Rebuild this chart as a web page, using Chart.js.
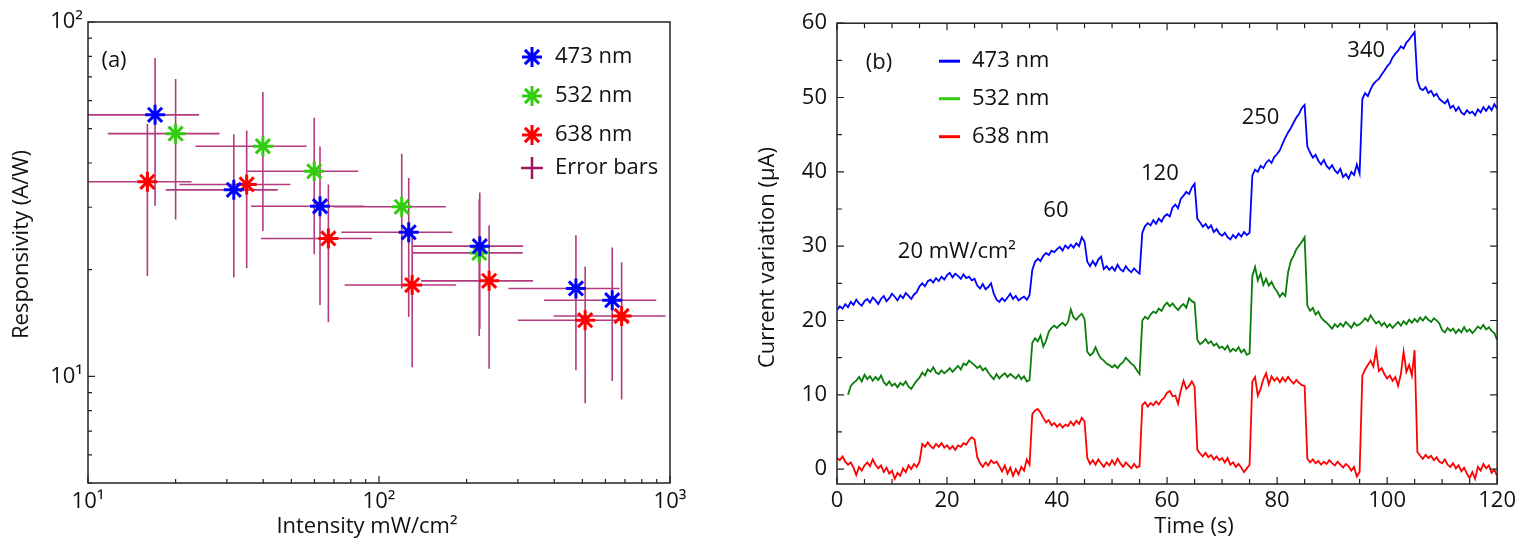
<!DOCTYPE html>
<html>
<head>
<meta charset="utf-8">
<script src="https://cdn.jsdelivr.net/npm/chart.js@4.4.1/dist/chart.umd.min.js"></script>
<style>
  html, body { margin: 0; padding: 0; background: #fff; }
  #wrapA { position: absolute; left: 0; top: 0; }
  #wrapB { position: absolute; left: 730px; top: 0; }
</style>
</head>
<body>
<div id="wrapA"><canvas id="respChart" width="730" height="542"></canvas></div>
<div id="wrapB"><canvas id="currentChart" width="790" height="542"></canvas></div>
<script>
// ---- panel (a): responsivity vs intensity, error = half width ----
var intensity473 = [17.0, 31.7, 62.7, 126.5, 222, 475, 633];
var resp473 = [54.7, 33.6, 30.2, 25.5, 23.3, 17.7, 16.4];
var errX473 = [7.1, 13.2, 26.4, 52.3, 91, 196.5, 264];
var errY473 = [24.4, 14.6, 14.3, 10.8, 9.7, 7.3, 6.7];

var intensity532 = [20.0, 39.9, 59.9, 119.7, 221];
var resp532 = [48.4, 44.6, 37.9, 30.1, 22.3];
var errX532 = [8.3, 16.5, 24.9, 50, 91];
var errY532 = [20.7, 18.9, 15.8, 12.4, 9.3];

var intensity638 = [16.0, 35.1, 67.0, 130, 239, 511, 682];
var resp638 = [35.4, 34.8, 24.5, 18.1, 18.6, 14.4, 14.8];
var errX638 = [6.7, 14.5, 27.7, 53.8, 99.5, 211, 284];
var errY638 = [16.2, 14.6, 10.3, 7.5, 8.1, 6.0, 6.2];

var xTicksA = [10, 100, 1000];
var yTicksA = [10, 100];

// ---- panel (b): current vs time, sampled every 0.5 s ----
var timeStep = 0.5;
var current473 = [
  21.4, 21.9, 21.6, 22.2, 21.8, 22.5, 22.1, 22.8, 22.3, 22.0, 22.6,
  22.9, 22.4, 23.1, 22.7, 22.2, 22.9, 23.3, 22.6, 23.0, 23.6,
  23.2, 22.7, 23.4, 23.0, 23.7, 23.3, 22.9, 23.5, 23.8, 24.6,
  25.0, 24.6, 25.3, 25.5, 25.1, 25.7, 25.3, 25.9, 25.5, 26.1,
  26.4, 25.8, 26.3, 26.0, 25.6, 26.2, 25.7, 25.9, 25.4, 25.6,
  24.7, 24.3, 24.9, 24.2, 24.5, 25.0, 23.6, 22.8, 22.5, 23.0,
  22.6, 23.1, 23.6, 22.9, 23.3, 22.7, 23.0, 23.2, 22.8, 23.4,
  26.8, 27.9, 28.3, 28.0, 28.7, 29.1, 28.8, 29.4, 29.2, 29.6,
  29.9, 29.4, 30.1, 29.7, 30.2, 29.8, 30.4, 30.0, 31.2, 30.6,
  27.9, 27.3, 28.0, 27.4, 28.2, 28.6, 26.9, 27.3, 26.8, 27.2,
  26.7, 27.5, 26.9, 26.6, 27.3, 26.8, 26.5, 27.0, 26.6, 26.3,
  31.8, 32.7, 33.1, 32.8, 33.5, 33.0, 33.7, 33.3, 34.0, 34.3,
  34.0, 35.2, 35.6, 35.1, 36.4, 36.8, 37.3, 37.0, 37.9, 38.4,
  33.7, 33.2, 32.6, 33.0, 32.4, 32.8, 31.9, 32.3, 31.7, 31.4,
  31.8, 31.2, 30.9, 31.5, 31.1, 31.7, 31.3, 31.9, 31.5, 31.8,
  39.5, 40.3, 40.0, 40.8, 40.5, 41.2, 41.6, 41.2, 42.0, 42.4,
  42.9, 43.8, 44.6, 45.3, 45.9, 46.6, 47.3, 47.8, 48.6, 49.0,
  43.4, 42.6, 41.9, 42.3, 41.5, 41.0, 41.6, 40.8, 40.4, 40.9,
  40.2, 39.8, 40.4, 39.3, 39.7, 39.1, 40.0, 39.6, 41.0, 39.8,
  49.8, 50.6, 50.2, 51.1, 51.8, 52.2, 52.5, 53.1, 53.6, 54.2,
  54.6, 55.4, 55.9, 56.3, 56.9, 56.6, 57.4, 57.8, 58.3, 58.8,
  52.3, 51.2, 51.0, 51.4, 50.6, 50.9, 50.2, 50.5, 49.8, 49.5,
  49.2, 49.7, 48.6, 48.9, 48.2, 48.7, 48.0, 47.7, 48.3, 47.9,
  48.1, 47.6, 48.4, 48.0, 48.7, 48.2, 48.8, 48.3, 49.1, 48.5
];
var current532 = [
  null, null, null, null, 10.0, 11.2, 11.6, 11.9, 12.4, 11.8, 12.7,
  12.1, 12.5, 11.9, 12.4, 12.0, 12.6, 11.7, 11.3, 11.8, 11.2,
  11.5, 11.0, 11.6, 11.3, 11.8, 11.1, 10.8, 11.4, 11.9, 12.3,
  13.0, 12.6, 13.4, 13.1, 13.7, 13.0, 12.8, 13.3, 12.9, 13.2,
  13.6, 13.1, 13.5, 13.9, 13.4, 14.2, 14.0, 14.6, 14.3, 14.0,
  13.6, 13.9, 13.3, 13.6, 13.0, 12.5, 12.1, 12.8, 12.2, 12.6,
  12.9, 12.4, 12.8, 12.5, 12.2, 12.7, 12.1, 12.5, 11.8, 12.0,
  17.0, 17.6, 17.2, 18.0, 16.5, 17.3, 18.5, 19.0, 19.3, 19.0,
  19.4, 19.7, 19.3, 19.8, 21.5, 20.4, 20.1, 20.6, 20.9, 20.2,
  15.8, 15.3, 15.6, 16.4, 15.5, 14.9, 14.6, 14.2, 14.0, 13.7,
  14.0, 13.6, 14.1, 14.4, 15.0, 14.6, 14.2, 13.9, 13.3, 12.8,
  20.0, 20.5, 20.2, 20.8, 21.2, 21.0, 21.6, 21.3, 22.0, 22.4,
  21.9, 22.3, 21.8, 21.4, 21.9, 22.2, 21.7, 23.0, 22.6, 22.4,
  17.4, 16.8, 17.1, 17.5, 16.9, 17.2, 16.6, 16.9, 16.3, 16.5,
  16.1, 16.6, 15.8, 16.2, 15.9, 16.4, 15.7, 16.1, 15.4, 15.6,
  26.0, 27.2, 25.4, 26.3, 24.8, 25.6, 24.7, 25.2, 24.4, 23.9,
  23.2, 23.7, 23.3, 26.5, 28.0, 28.7, 29.6, 30.1, 30.6, 31.2,
  22.0, 21.3, 21.7, 20.8, 21.2, 20.4, 20.0, 19.7, 19.3, 18.9,
  19.5, 19.1, 19.6, 19.2, 19.8, 19.4, 19.0, 19.7, 19.3, 19.5,
  19.8, 20.3, 19.9, 20.7, 20.1, 19.6, 19.9, 19.3, 19.7, 19.1,
  19.5, 19.0, 19.4, 19.8, 19.3, 19.9, 19.5, 20.1, 19.7, 20.2,
  19.8, 20.4, 20.0, 20.5, 20.1, 19.8, 20.3, 20.0, 19.6, 18.7,
  18.4, 19.0, 18.6, 18.9, 18.3, 18.8, 18.4, 19.1, 18.5, 18.8,
  18.3, 18.7, 19.2, 18.9, 19.4, 18.8, 19.1, 18.6, 18.3, 17.4
];
var current638 = [
  1.5, 1.2, 1.7, 1.0, 0.6, 0.9, 0.2, -0.8, 0.3, -0.2, 0.5,
  0.9, 0.4, 1.3, 0.6, 0.1, 0.5, -0.4, 0.2, -0.6, -0.2,
  -1.3, -0.5, -0.9, 0.1, -0.4, 0.5, 0.0, 0.7, 0.3, 1.0,
  3.4, 3.0, 3.6, 3.1, 2.8, 3.4, 3.0, 3.5, 2.9, 3.2,
  2.7, 3.1, 2.6, 3.2, 3.0, 3.5, 3.3, 3.9, 4.3, 4.0,
  1.6, 0.8, 0.3, 0.9, 0.5, 1.2, 0.8, 1.0, 0.4, -0.3,
  0.5, -0.6, 0.2, -0.9, 0.0, -0.7, 0.3, -0.2, 1.3, 0.6,
  7.4, 7.9, 8.1, 7.6, 6.9, 6.3, 6.6, 5.9, 6.2, 5.7,
  6.1, 5.6, 6.0, 5.8, 6.4, 5.9, 6.5, 6.1, 6.9, 6.4,
  1.5, 0.7, 1.2, 0.6, 1.3, 0.8, 0.3, 0.9, 0.5, 1.2,
  0.6, 1.4, 0.8, 0.3, 0.9, 0.5, 0.1, 0.7, 0.2, 0.4,
  8.6, 9.0, 8.4, 8.9, 8.6, 9.1, 8.7, 9.3, 9.6, 10.3,
  10.5, 9.8, 9.9, 8.8, 10.6, 11.9, 10.8, 11.2, 11.8, 11.1,
  2.6, 2.1, 1.7, 2.2, 1.6, 1.9, 1.3, 1.7, 1.2, 1.5,
  0.9, 1.5, 0.6, 0.9, 0.3, 0.7, 0.2, -0.4, 0.1, 0.6,
  11.8, 12.4, 9.9, 10.8, 12.1, 12.9, 11.4, 12.5, 11.9, 12.3,
  11.7, 12.3, 11.8, 12.4, 11.9, 11.5, 12.0, 11.6, 11.3, 11.2,
  1.4, 0.9, 1.3, 0.8, 1.1, 0.6, 1.0, 0.7, 1.2, 0.8,
  0.5, 1.0, 0.6, 0.2, 0.7, 0.4, -0.2, 0.3, -1.0, -0.4,
  12.6, 13.4, 14.0, 14.6, 13.8, 16.0, 13.2, 13.6, 12.8, 12.2,
  12.6, 11.9, 12.4, 11.2, 12.8, 15.8, 13.1, 14.0, 12.6, 16.0,
  2.3, 1.8, 1.4, 1.9, 1.5, 1.8, 1.2, 1.6, 1.0, 0.8,
  1.3, 0.6, 0.3, 0.8, 0.1, 0.5, -0.3, 0.2, -0.6, -1.2,
  -0.4, -1.3, 0.3, -0.2, 0.7, 0.1, 0.5, -0.5, -0.1, -0.9
];
var xTicksB = [0, 20, 40, 60, 80, 100, 120];
var yTicksB = [0, 10, 20, 30, 40, 50, 60];
var powerLabels = ['20 mW/cm²', '60', '120', '250', '340'];
var powerLabelT = [21.8, 39.8, 58.7, 77.0, 96.2];
var powerLabelV = [29.3, 34.8, 39.7, 47.3, 56.3];

var seriesNames = ['473 nm', '532 nm', '638 nm'];
var markerColors = ['#0000ff', '#33cc11', '#ff0000'];
var lineColors = ['#0000ff', '#0a7d0a', '#ff0000'];
var errColor = 'rgba(165, 25, 105, 0.85)';
var axisColor = '#222';
var textColor = '#111';
var fontFamily = '"Open Sans", sans-serif';
var fontSize = 22;

Chart.defaults.font.family = fontFamily;
Chart.defaults.color = textColor;

var sup = { 0: '⁰', 1: '¹', 2: '²', 3: '³' };
function powerLabel(v) {
    return '10' + sup[Math.round(Math.log10(v))];
}

function toPoints(xs, ys) {
    return xs.map(function (x, i) { return { x: x, y: ys[i] }; });
}

function drawStar(ctx, x, y, r) {
    ctx.beginPath();
    for (var k = 0; k < 4; k++) {
        var ang = k * Math.PI / 4;
        ctx.moveTo(x - Math.cos(ang) * r, y - Math.sin(ang) * r);
        ctx.lineTo(x + Math.cos(ang) * r, y + Math.sin(ang) * r);
    }
    ctx.stroke();
}

// ---------------- panel (a) ----------------
var errSets = [
    [intensity473, resp473, errX473, errY473],
    [intensity532, resp532, errX532, errY532],
    [intensity638, resp638, errX638, errY638]
];

var respDecor = {
    id: 'respDecor',
    beforeDatasetsDraw: function (chart) {
        var ctx = chart.ctx, a = chart.chartArea, sx = chart.scales.x, sy = chart.scales.y;
        ctx.save();
        ctx.beginPath();
        ctx.rect(a.left, a.top, a.right - a.left, a.bottom - a.top);
        ctx.clip();
        ctx.strokeStyle = errColor;
        ctx.lineWidth = 1.6;
        ctx.beginPath();
        errSets.forEach(function (s) {
            s[0].forEach(function (xv, i) {
                var yv = s[1][i];
                var px = sx.getPixelForValue(xv), py = sy.getPixelForValue(yv);
                ctx.moveTo(sx.getPixelForValue(xv - s[2][i]), py);
                ctx.lineTo(sx.getPixelForValue(xv + s[2][i]), py);
                ctx.moveTo(px, sy.getPixelForValue(yv + s[3][i]));
                ctx.lineTo(px, sy.getPixelForValue(yv - s[3][i]));
            });
        });
        ctx.stroke();
        ctx.restore();
    },
    afterDraw: function (chart) {
        var ctx = chart.ctx, a = chart.chartArea, sx = chart.scales.x, sy = chart.scales.y;
        ctx.save();
        ctx.strokeStyle = axisColor;
        ctx.lineWidth = 1.5;
        ctx.strokeRect(a.left, a.top, a.right - a.left, a.bottom - a.top);

        // inward ticks, log decades
        ctx.lineWidth = 1.2;
        ctx.beginPath();
        [10, 100].forEach(function (dec) {
            for (var k = 1; k <= 10; k++) {
                var v = dec * k;
                if (v > 1000) continue;
                var len = (k === 1 || k === 10) ? 7 : 4;
                var px = sx.getPixelForValue(v);
                ctx.moveTo(px, a.bottom);
                ctx.lineTo(px, a.bottom - len);
            }
        });
        [1, 10].forEach(function (dec) {
            for (var k = 1; k <= 10; k++) {
                var v = dec * k;
                if (v < 5 || v > 100) continue;
                var len = (k === 1 || k === 10) ? 7 : 4;
                var py = sy.getPixelForValue(v);
                ctx.moveTo(a.left, py);
                ctx.lineTo(a.left + len, py);
            }
        });
        ctx.stroke();

        ctx.fillStyle = textColor;
        ctx.font = fontSize + 'px ' + fontFamily;
        ctx.textBaseline = 'middle';
        ctx.textAlign = 'center';
        ctx.fillText('(a)', a.left + 26, a.top + 39);

        // legend
        var rows = [35, 74, 113];
        ctx.textAlign = 'left';
        for (var i = 0; i < 3; i++) {
            ctx.strokeStyle = markerColors[i];
            ctx.lineWidth = 3;
            drawStar(ctx, a.right - 138, a.top + rows[i], 10);
            ctx.fillText(seriesNames[i], a.right - 115, a.top + rows[i]);
        }
        ctx.strokeStyle = 'rgb(160, 20, 100)';
        ctx.lineWidth = 2.5;
        ctx.beginPath();
        ctx.moveTo(a.right - 149, a.top + 146);
        ctx.lineTo(a.right - 127, a.top + 146);
        ctx.moveTo(a.right - 138, a.top + 135);
        ctx.lineTo(a.right - 138, a.top + 157);
        ctx.stroke();
        ctx.fillText('Error bars', a.right - 115, a.top + 146);

        // axis titles
        ctx.textAlign = 'center';
        ctx.fillText('Intensity mW/cm²', (a.left + a.right) / 2 - 12, a.bottom + 44);
        ctx.save();
        ctx.translate(22, (a.top + a.bottom) / 2 - 8);
        ctx.rotate(-Math.PI / 2);
        ctx.fillText('Responsivity (A/W)', 0, 0);
        ctx.restore();
        ctx.restore();
    }
};

new Chart(document.getElementById('respChart').getContext('2d'), {
    type: 'scatter',
    data: {
        datasets: [0, 1, 2].map(function (i) {
            return {
                label: seriesNames[i],
                data: toPoints(errSets[i][0], errSets[i][1]),
                pointStyle: 'star',
                pointRadius: 10,
                pointBorderWidth: 3,
                borderColor: markerColors[i],
                backgroundColor: markerColors[i]
            };
        })
    },
    options: {
        responsive: false,
        animation: false,
        layout: { padding: { top: 22, right: 60, left: 0, bottom: 0 } },
        plugins: { legend: { display: false }, tooltip: { enabled: false } },
        scales: {
            x: {
                type: 'logarithmic',
                min: 10,
                max: 1000,
                grid: { display: false, drawTicks: false },
                border: { display: false },
                afterBuildTicks: function (s) { s.ticks = xTicksA.map(function (v) { return { value: v }; }); },
                afterFit: function (s) { s.height = 59; },
                ticks: { padding: 6, font: { size: fontSize }, maxRotation: 0, autoSkip: false, callback: powerLabel }
            },
            y: {
                type: 'logarithmic',
                min: 5,
                max: 100,
                grid: { display: false, drawTicks: false },
                border: { display: false },
                afterBuildTicks: function (s) { s.ticks = yTicksA.map(function (v) { return { value: v }; }); },
                afterFit: function (s) { s.width = 88; },
                ticks: { padding: 5, font: { size: fontSize }, autoSkip: false, callback: powerLabel }
            }
        }
    },
    plugins: [respDecor]
});

// ---------------- panel (b) ----------------
var currents = [current473, current532, current638];

var currentDecor = {
    id: 'currentDecor',
    afterDraw: function (chart) {
        var ctx = chart.ctx, a = chart.chartArea, sx = chart.scales.x, sy = chart.scales.y;
        ctx.save();
        ctx.strokeStyle = axisColor;
        ctx.lineWidth = 1.5;
        ctx.strokeRect(a.left, a.top, a.right - a.left, a.bottom - a.top);

        ctx.lineWidth = 1.2;
        ctx.beginPath();
        for (var t = 0; t <= 120; t += 5) {
            var len = (t % 20 === 0) ? 7 : 5;
            var px = sx.getPixelForValue(t);
            ctx.moveTo(px, a.bottom); ctx.lineTo(px, a.bottom - len);
            ctx.moveTo(px, a.top); ctx.lineTo(px, a.top + len);
        }
        for (var v = 0; v <= 60; v += 5) {
            var len2 = (v % 10 === 0) ? 7 : 5;
            var py = sy.getPixelForValue(v);
            ctx.moveTo(a.left, py); ctx.lineTo(a.left + len2, py);
            ctx.moveTo(a.right, py); ctx.lineTo(a.right - len2, py);
        }
        ctx.stroke();

        ctx.fillStyle = textColor;
        ctx.font = fontSize + 'px ' + fontFamily;
        ctx.textBaseline = 'middle';
        ctx.textAlign = 'center';
        ctx.fillText('(b)', a.left + 42, a.top + 40);

        // legend
        var rows = [38, 75.5, 113.5];
        var legendColors = ['#0000ff', '#33cc11', '#ff0000'];
        ctx.textAlign = 'left';
        for (var i = 0; i < 3; i++) {
            ctx.strokeStyle = legendColors[i];
            ctx.lineWidth = 3;
            ctx.beginPath();
            ctx.moveTo(a.left + 102, a.top + rows[i]);
            ctx.lineTo(a.left + 123, a.top + rows[i]);
            ctx.stroke();
            ctx.fillText(seriesNames[i], a.left + 135, a.top + rows[i]);
        }

        // intensity annotations
        ctx.textAlign = 'center';
        powerLabels.forEach(function (txt, k) {
            ctx.fillText(txt, sx.getPixelForValue(powerLabelT[k]), sy.getPixelForValue(powerLabelV[k]));
        });

        // axis titles
        ctx.fillText('Time (s)', (a.left + a.right) / 2 + 27, a.bottom + 43);
        ctx.save();
        ctx.translate(38, (a.top + a.bottom) / 2 + 4);
        ctx.rotate(-Math.PI / 2);
        ctx.fillText('Current variation (µA)', 0, 0);
        ctx.restore();
        ctx.restore();
    }
};

new Chart(document.getElementById('currentChart').getContext('2d'), {
    type: 'line',
    data: {
        datasets: [0, 1, 2].map(function (i) {
            return {
                label: seriesNames[i],
                data: currents[i].map(function (v, k) { return { x: k * timeStep, y: v }; }),
                borderColor: lineColors[i],
                borderWidth: 1.8,
                pointRadius: 0,
                tension: 0,
                fill: false
            };
        })
    },
    options: {
        responsive: false,
        animation: false,
        layout: { padding: { top: 23, right: 17, left: 0, bottom: 0 } },
        plugins: { legend: { display: false }, tooltip: { enabled: false } },
        scales: {
            x: {
                type: 'linear',
                min: 0,
                max: 120,
                grid: { display: false, drawTicks: false },
                border: { display: false },
                afterBuildTicks: function (s) { s.ticks = xTicksB.map(function (v) { return { value: v }; }); },
                afterFit: function (s) { s.height = 58; },
                ticks: { padding: 4, font: { size: fontSize }, maxRotation: 0, autoSkip: false }
            },
            y: {
                type: 'linear',
                min: -2,
                max: 60,
                grid: { display: false, drawTicks: false },
                border: { display: false },
                afterBuildTicks: function (s) { s.ticks = yTicksB.map(function (v) { return { value: v }; }); },
                afterFit: function (s) { s.width = 107; },
                ticks: { padding: 10, font: { size: fontSize }, autoSkip: false }
            }
        }
    },
    plugins: [currentDecor]
});
</script>
</body>
</html>
